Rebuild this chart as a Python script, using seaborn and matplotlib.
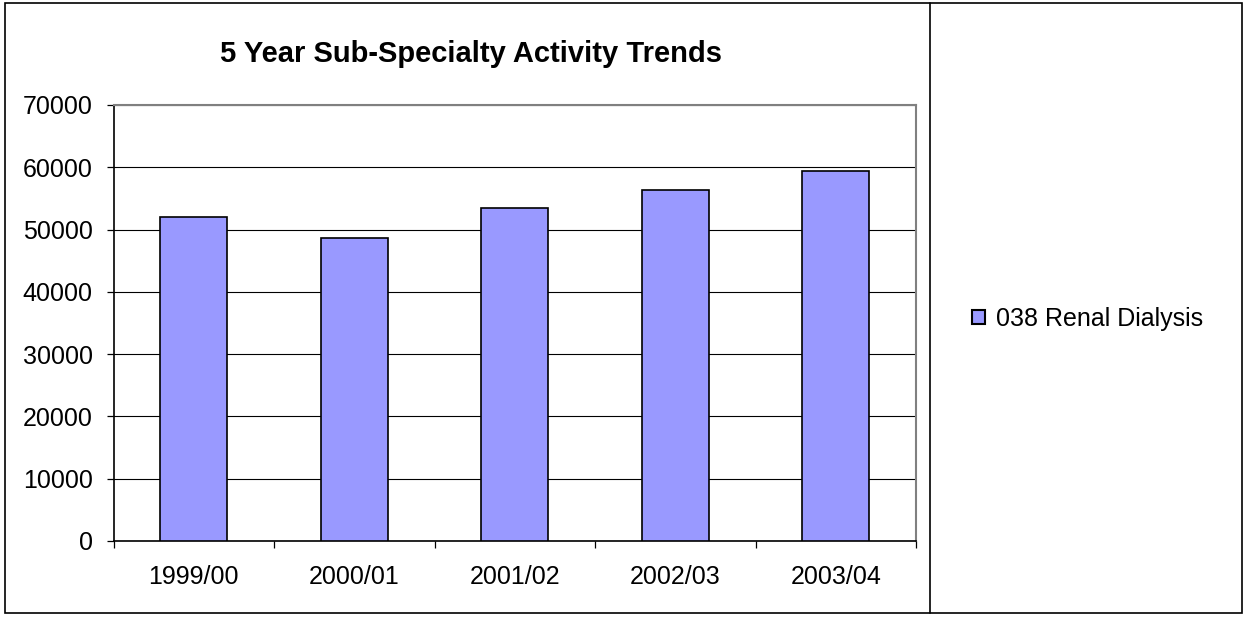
import matplotlib
matplotlib.use("Agg")
import matplotlib.pyplot as plt
from matplotlib.lines import Line2D
from matplotlib.patches import Rectangle
import seaborn as sns
import pandas as pd

# Annual activity, renal dialysis sub-specialty
years = ["1999/00", "2000/01", "2001/02", "2002/03", "2003/04"]
activity = [52000, 48600, 53400, 56300, 59400]
series_name = "038 Renal Dialysis"
y_ticks = [0, 10000, 20000, 30000, 40000, 50000, 60000, 70000]

sns.set_style("white")
plt.rcParams["font.family"] = ["Liberation Sans", "DejaVu Sans"]
plt.rcParams["text.color"] = "black"
plt.rcParams["xtick.color"] = "black"
plt.rcParams["ytick.color"] = "black"
plt.rcParams["xtick.labelcolor"] = "black"
plt.rcParams["ytick.labelcolor"] = "black"

W, H = 1244, 617
fig = plt.figure(figsize=(W / 100, H / 100), dpi=100)
ax = fig.add_axes([113.5 / W, 1 - 541 / H, (916 - 113.5) / W, (541 - 105) / H])

df = pd.DataFrame({"year": years, "activity": activity, "series": series_name})
sns.barplot(data=df, x="year", y="activity", hue="series",
            palette=["#9999FF"], saturation=1, width=0.42, edgecolor="black",
            linewidth=1.2, ax=ax, zorder=3)

ax.set_ylim(0, 70000)
ax.set_xlim(-0.5, len(years) - 0.5)
ax.set_yticks(y_ticks)
ax.set_yticklabels([str(v) for v in y_ticks])
ax.yaxis.grid(True, color="black", linewidth=0.8, zorder=0)
ax.xaxis.grid(False)
ax.set_xlabel("")
ax.set_ylabel("")

# Category separators as outward tick marks, labels centred without marks
ax.set_xticks([i - 0.5 for i in range(len(years) + 1)], minor=True)
ax.tick_params(axis="x", which="minor", direction="out", length=5,
               width=0.9, color="black", bottom=True)
ax.tick_params(axis="x", which="major", length=0, pad=17, labelsize=18,
               labelcolor="black")
ax.tick_params(axis="y", direction="out", length=5, width=0.9,
               color="black", left=True, pad=10, labelsize=18,
               labelcolor="black")

for side in ("left", "bottom"):
    ax.spines[side].set_color("black")
    ax.spines[side].set_linewidth(1.2)
for side in ("top", "right"):
    ax.spines[side].set_visible(True)
    ax.spines[side].set_color("#808080")
    ax.spines[side].set_linewidth(1.5)

fig.text(471.5 / W, 1 - 54 / H, "5 Year Sub-Specialty Activity Trends",
         ha="center", va="center", fontsize=21, fontweight="bold",
         color="black")

leg = ax.get_legend()
if leg is not None:
    leg.remove()
ax.legend(handles=[Rectangle((0, 0), 1, 1, facecolor="#9999FF",
                             edgecolor="black", linewidth=1.5)],
          labels=[series_name], loc="center left",
          bbox_to_anchor=(972 / W, 1 - 319 / H), bbox_transform=fig.transFigure,
          frameon=False, fontsize=18, labelcolor="black",
          handlelength=0.5, handleheight=0.5,
          handletextpad=0.45, borderpad=0, borderaxespad=0)

# Outer frame and divider between chart and legend panels
fig.add_artist(Rectangle((5 / W, 1 - 613 / H), (1242 - 5) / W, (613 - 3) / H,
                         fill=False, edgecolor="black", linewidth=1.2,
                         transform=fig.transFigure))
fig.add_artist(Line2D([930 / W, 930 / W], [1 - 613 / H, 1 - 3 / H],
                      color="black", linewidth=1.2, transform=fig.transFigure))

fig.savefig("out.png", dpi=100, facecolor="white")
